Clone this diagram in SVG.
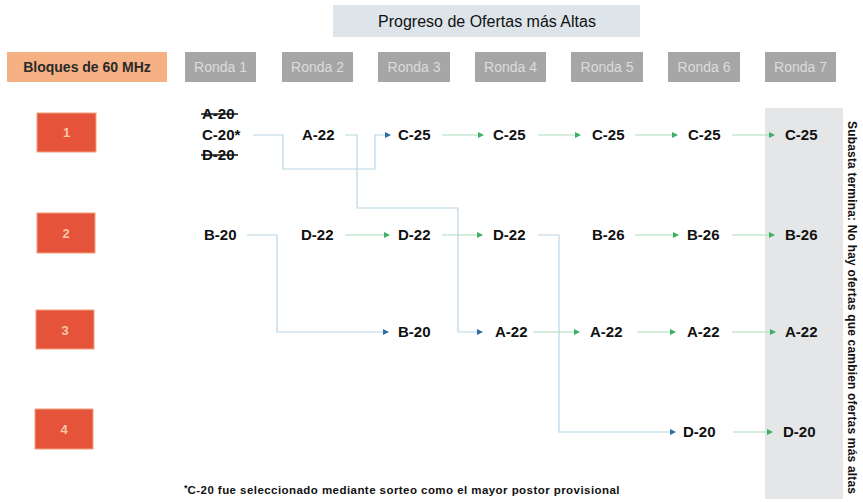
<svg xmlns="http://www.w3.org/2000/svg" width="863" height="502" viewBox="0 0 863 502">
<defs>
<style>
.hdr{fill:#a6a6a6}
.hdrt{font-family:"Liberation Sans",Arial,sans-serif;font-size:14px;fill:#dcdcdc;text-anchor:middle}
.blk{fill:#e5533b;stroke:#f2a07a;stroke-width:1}
.blkt{font-family:"Liberation Sans",Arial,sans-serif;font-size:13px;font-weight:bold;fill:#f7c9a8;text-anchor:middle}
.lbl{font-family:"Liberation Sans",Arial,sans-serif;font-size:15px;font-weight:bold;fill:#111}
.cb{fill:none;stroke:#b9d5e6;stroke-width:1.2}
.cg{fill:none;stroke:#a9dcb9;stroke-width:1.2}
</style>
<marker id="ab" viewBox="0 0 6 6" refX="5" refY="3" markerWidth="6" markerHeight="6" orient="auto" markerUnits="userSpaceOnUse"><path d="M0,0 L6,3 L0,6 z" fill="#2d6ea3"/></marker>
<marker id="ag" viewBox="0 0 6 6" refX="5" refY="3" markerWidth="6" markerHeight="6" orient="auto" markerUnits="userSpaceOnUse"><path d="M0,0 L6,3 L0,6 z" fill="#3fae66"/></marker>
</defs>
<rect width="863" height="502" fill="#ffffff"/>
<g id="title">
<rect x="333" y="5" width="307" height="32" fill="#dde5ea"/>
<text x="487" y="27" font-family="Liberation Sans,Arial,sans-serif" font-size="16" fill="#111" text-anchor="middle">Progreso de Ofertas más Altas</text>
</g>
<rect id="col7" x="765" y="108" width="78" height="391" fill="#e4e6e8"/>
<g id="header">
<g id="h-bloques"><rect x="7" y="52" width="160" height="30" fill="#f5b183"/><text x="87" y="72" font-family="Liberation Sans,Arial,sans-serif" font-size="14" font-weight="bold" fill="#2a2a2a" text-anchor="middle">Bloques de 60 MHz</text></g>
<g id="h-r1"><rect class="hdr" x="185" y="52" width="71" height="30"/><text class="hdrt" x="220.5" y="72">Ronda 1</text></g>
<g id="h-r2"><rect class="hdr" x="282" y="52" width="71" height="30"/><text class="hdrt" x="317.5" y="72">Ronda 2</text></g>
<g id="h-r3"><rect class="hdr" x="378" y="52" width="72" height="30"/><text class="hdrt" x="414" y="72">Ronda 3</text></g>
<g id="h-r4"><rect class="hdr" x="475" y="52" width="71" height="30"/><text class="hdrt" x="510.5" y="72">Ronda 4</text></g>
<g id="h-r5"><rect class="hdr" x="571" y="52" width="72" height="30"/><text class="hdrt" x="607" y="72">Ronda 5</text></g>
<g id="h-r6"><rect class="hdr" x="668" y="52" width="72" height="30"/><text class="hdrt" x="704" y="72">Ronda 6</text></g>
<g id="h-r7"><rect class="hdr" x="765" y="52" width="71" height="30"/><text class="hdrt" x="800.5" y="72">Ronda 7</text></g>
</g>
<g id="blocks">
<g id="b1"><rect class="blk" x="37" y="113" width="59" height="39"/><text class="blkt" x="66.5" y="137">1</text></g>
<g id="b2"><rect class="blk" x="37" y="213" width="58" height="40"/><text class="blkt" x="66" y="238">2</text></g>
<g id="b3"><rect class="blk" x="36" y="310" width="58" height="39"/><text class="blkt" x="65" y="335">3</text></g>
<g id="b4"><rect class="blk" x="35" y="409" width="58" height="40"/><text class="blkt" x="64" y="434">4</text></g>
</g>
<g id="connectors">
<path class="cb" d="M253,135 H283 V169 H375 V135 H390" marker-end="url(#ab)"/>
<path class="cb" d="M345,135 H357 V208 H458 V332 H482" marker-end="url(#ab)"/>
<path class="cb" d="M247,235 H277 V332 H388" marker-end="url(#ab)"/>
<path class="cb" d="M538,235 H559 V432 H675" marker-end="url(#ab)"/>
<path class="cg" d="M442,135 H483" marker-end="url(#ag)"/>
<path class="cg" d="M538,135 H580" marker-end="url(#ag)"/>
<path class="cg" d="M635,135 H677" marker-end="url(#ag)"/>
<path class="cg" d="M732,135 H774" marker-end="url(#ag)"/>
<path class="cg" d="M345,235 H389" marker-end="url(#ag)"/>
<path class="cg" d="M442,235 H482" marker-end="url(#ag)"/>
<path class="cg" d="M635,235 H678" marker-end="url(#ag)"/>
<path class="cg" d="M732,235 H774" marker-end="url(#ag)"/>
<path class="cg" d="M533,332 H579" marker-end="url(#ag)"/>
<path class="cg" d="M637,332 H675" marker-end="url(#ag)"/>
<path class="cg" d="M732,332 H775" marker-end="url(#ag)"/>
<path class="cg" d="M733,432 H772" marker-end="url(#ag)"/>
</g>
<g id="r1-r1">
<text class="lbl" x="202" y="119">A-20</text>
<text class="lbl" x="202" y="140">C-20*</text>
<text class="lbl" x="202" y="160">D-20</text>
<line x1="201" y1="114" x2="238" y2="114" stroke="#111" stroke-width="1.6"/>
<line x1="201" y1="155" x2="238" y2="155" stroke="#111" stroke-width="1.6"/>
</g>
<g id="r1-r2"><text class="lbl" x="302" y="140">A-22</text></g>
<g id="r1-r3"><text class="lbl" x="398" y="140">C-25</text></g>
<g id="r1-r4"><text class="lbl" x="493" y="140">C-25</text></g>
<g id="r1-r5"><text class="lbl" x="592" y="140">C-25</text></g>
<g id="r1-r6"><text class="lbl" x="688" y="140">C-25</text></g>
<g id="r1-r7"><text class="lbl" x="785" y="140">C-25</text></g>
<g id="r2-r1"><text class="lbl" x="204" y="240">B-20</text></g>
<g id="r2-r2"><text class="lbl" x="301" y="240">D-22</text></g>
<g id="r2-r3"><text class="lbl" x="398" y="240">D-22</text></g>
<g id="r2-r4"><text class="lbl" x="493" y="240">D-22</text></g>
<g id="r2-r5"><text class="lbl" x="592" y="240">B-26</text></g>
<g id="r2-r6"><text class="lbl" x="687" y="240">B-26</text></g>
<g id="r2-r7"><text class="lbl" x="785" y="240">B-26</text></g>
<g id="r3-r3"><text class="lbl" x="398" y="337">B-20</text></g>
<g id="r3-r4"><text class="lbl" x="495" y="337">A-22</text></g>
<g id="r3-r5"><text class="lbl" x="590" y="337">A-22</text></g>
<g id="r3-r6"><text class="lbl" x="687" y="337">A-22</text></g>
<g id="r3-r7"><text class="lbl" x="785" y="337">A-22</text></g>
<g id="r4-r6"><text class="lbl" x="683" y="437">D-20</text></g>
<g id="r4-r7"><text class="lbl" x="783" y="437">D-20</text></g>
<text x="848" y="121" transform="rotate(90 848 121)" font-family="Liberation Sans,Arial,sans-serif" font-size="12" font-weight="bold" fill="#111" textLength="373" lengthAdjust="spacing">Subasta termina: No hay ofertas que cambien ofertas más altas</text>
<text x="184" y="494" font-family="Liberation Sans,Arial,sans-serif" font-size="11.5" font-weight="bold" fill="#111"><tspan font-size="9" dy="-3">*</tspan><tspan dy="3" textLength="432" lengthAdjust="spacing">C-20 fue seleccionado mediante sorteo como el mayor postor provisional</tspan></text>
</svg>
